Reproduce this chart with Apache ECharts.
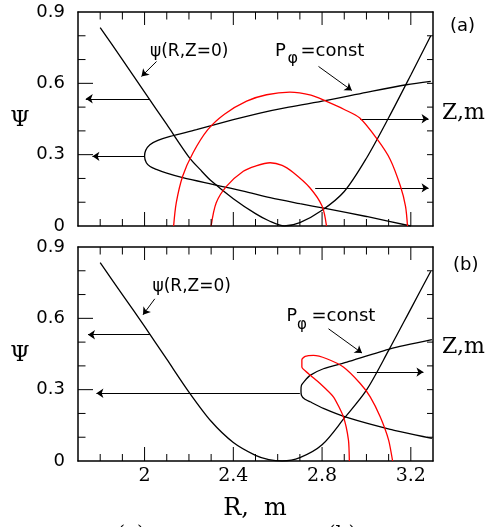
<!DOCTYPE html>
<html>
<head>
<meta charset="utf-8">
<script src="https://cdn.jsdelivr.net/npm/echarts@6/dist/echarts.min.js"></script>
<style>
html, body { margin: 0; padding: 0; background: #fff; }
#main { width: 494px; height: 527px; }
</style>
</head>
<body>
<div id="main"></div>
<script>
// ticks and tick labels
const rMajor = [2, 2.4, 2.8, 3.2]
const rMinor = [1.8, 1.9, 2.1, 2.2, 2.3, 2.5, 2.6, 2.7, 2.9, 3.0, 3.1]
const psiMajor = [0, 0.3, 0.6, 0.9]
const psiMinor = [0.1, 0.2, 0.4, 0.5, 0.7, 0.8]
const psiAll = [0.1, 0.2, 0.3, 0.4, 0.5, 0.6, 0.7, 0.8]

// psi(R, Z=0), panel (a)
const psiA = [[1.8, 0.834], [1.9, 0.7], [2.0, 0.563], [2.1, 0.427], [2.2, 0.29], [2.25, 0.238],
  [2.3, 0.19], [2.4, 0.115], [2.5, 0.052], [2.56, 0.022], [2.63, 0], [2.7, 0.014], [2.8, 0.066],
  [2.9, 0.145], [3.0, 0.285], [3.1, 0.455], [3.2, 0.635], [3.29, 0.8]]

// psi(R, Z=0), panel (b)
const psiB = [[1.8, 0.834], [1.9, 0.7], [2.0, 0.566], [2.1, 0.428], [2.2, 0.29], [2.3, 0.167],
  [2.4, 0.078], [2.5, 0.024], [2.56, 0.006], [2.62, 0], [2.7, 0.014], [2.8, 0.068], [2.9, 0.18],
  [3.0, 0.298], [3.1, 0.465], [3.2, 0.64], [3.29, 0.798]]

// P_phi = const, panel (a)
const pphiA = [[3.29, 0.608], [3.18, 0.594], [3.0, 0.562], [2.82, 0.528], [2.65, 0.5], [2.52, 0.475],
  [2.4, 0.447], [2.234, 0.405], [2.115, 0.377], [2.06, 0.36], [2.024, 0.342], [2.005, 0.318],
  [2.0, 0.293], [2.008, 0.266], [2.025, 0.25], [2.053, 0.238], [2.1, 0.222], [2.172, 0.203],
  [2.307, 0.175], [2.445, 0.147], [2.566, 0.119], [2.7, 0.094], [2.814, 0.074], [3.0, 0.04], [3.2, 0]]

// red orbits, panel (a)
const redOuterA = [[2.131, 0], [2.143, 0.098], [2.172, 0.21], [2.218, 0.307], [2.285, 0.405],
  [2.36, 0.47], [2.46, 0.525], [2.55, 0.552], [2.655, 0.563], [2.75, 0.55], [2.82, 0.524],
  [2.9, 0.49], [2.97, 0.454], [3.05, 0.363], [3.107, 0.28], [3.153, 0.168], [3.176, 0.084], [3.185, 0]]
const redInnerA = [[2.3, 0], [2.323, 0.098], [2.37, 0.168], [2.445, 0.23], [2.5, 0.252],
  [2.566, 0.266], [2.62, 0.255], [2.67, 0.225], [2.745, 0.161], [2.8, 0.084], [2.82, 0]]

// P_phi = const, panel (b)
const pphiB = [[3.295, 0.51], [3.107, 0.472], [2.912, 0.416], [2.806, 0.388], [2.746, 0.36],
  [2.72, 0.335], [2.707, 0.318], [2.705, 0.297], [2.707, 0.277], [2.72, 0.262], [2.746, 0.249],
  [2.806, 0.221], [2.912, 0.183], [3.107, 0.133], [3.295, 0.095]]

// red orbit, panel (b)
const redB = [[2.923, 0], [2.919, 0.088], [2.896, 0.186], [2.851, 0.27], [2.791, 0.326],
  [2.738, 0.368], [2.709, 0.395], [2.709, 0.426], [2.724, 0.44], [2.761, 0.444], [2.821, 0.43],
  [2.896, 0.395], [2.972, 0.326], [3.017, 0.27], [3.062, 0.186], [3.1, 0.088], [3.118, 0]]

// arrows (from, to) in R, psi
const arrowsA = [
  [[2.02, 0.535], [1.735, 0.535]],
  [[2.0, 0.293], [1.765, 0.293]],
  [[2.972, 0.451], [3.28, 0.451]],
  [[2.769, 0.16], [3.28, 0.16]],
  [[2.054, 0.692], [1.986, 0.629]],
  [[2.784, 0.671], [2.934, 0.57]]
]
const arrowsB = [
  [[2.024, 0.531], [1.745, 0.531]],
  [[2.70, 0.285], [1.783, 0.285]],
  [[2.957, 0.374], [3.257, 0.374]],
  [[2.046, 0.682], [1.993, 0.615]],
  [[2.829, 0.556], [2.98, 0.454]]
]

const black = '#000'
const near = (v, list) => list.some(t => Math.abs(t - v) < 1e-6)

// grid size, used to turn tick lengths in px into axis units
const gridW = 355
const gridH = 214
const rMin = 1.7
const rMax = 3.3
const psiMax = 0.9
const rPerPx = (rMax - rMin) / gridW
const psiPerPx = psiMax / gridH

function xAxes(grid, labels) {
  return ['bottom', 'top'].map(pos => ({
    type: 'value', gridIndex: grid, position: pos, min: rMin, max: rMax, interval: 0.1,
    splitLine: { show: false }, axisTick: { show: false },
    axisLine: { show: true, onZero: false, lineStyle: { color: black, width: 1.5 } },
    axisLabel: (labels && pos === 'bottom') ? {
      margin: 6, color: black, fontFamily: 'DejaVu Serif', fontSize: 19,
      formatter: v => near(v, rMajor) ? String(+v.toFixed(1)) : ''
    } : { show: false }
  }))
}

function yAxes(grid) {
  return ['left', 'right'].map(pos => ({
    type: 'value', gridIndex: grid, position: pos, min: 0, max: psiMax, interval: 0.1,
    splitLine: { show: false }, axisTick: { show: false },
    axisLine: { show: true, onZero: false, lineStyle: { color: black, width: 1.5 } },
    axisLabel: pos === 'left' ? {
      margin: 13, color: black, fontFamily: 'DejaVu Sans', fontSize: 18,
      formatter: v => near(v, psiMajor) ? String(+v.toFixed(1)) : ''
    } : { show: false }
  }))
}

// inward ticks on all four sides of a panel, one short line series per tick
function tickSeries(xi, yi) {
  const segs = []
  const xTick = (v, lb, lt) => {
    segs.push([[v, 0], [v, lb * psiPerPx]])
    segs.push([[v, psiMax], [v, psiMax - lt * psiPerPx]])
  }
  rMinor.forEach(v => xTick(v, 7, 7.5))
  rMajor.forEach(v => xTick(v, 14, 13))
  psiMinor.forEach(v => segs.push([[rMin, v], [rMin + 7.5 * rPerPx, v]]))
  psiMajor.filter(v => v > 0 && v < psiMax).forEach(v => segs.push([[rMin, v], [rMin + 15 * rPerPx, v]]))
  psiAll.forEach(v => segs.push([[rMax, v], [rMax - 6 * rPerPx, v]]))
  return segs.map(s => ({
    type: 'line', data: s, xAxisIndex: xi, yAxisIndex: yi, showSymbol: false, symbol: 'none',
    lineStyle: { color: black, width: 1 }, silent: true, clip: false
  }))
}

function curve(data, color, xi, yi, smooth) {
  return {
    type: 'line', data: data, xAxisIndex: xi, yAxisIndex: yi, showSymbol: false, symbol: 'none',
    smooth: smooth, lineStyle: { color: color, width: 1.3 }, silent: true
  }
}

function arrows(list, xi, yi) {
  return {
    type: 'lines', coordinateSystem: 'cartesian2d', xAxisIndex: xi, yAxisIndex: yi,
    symbol: ['none', 'arrow'], symbolSize: 7,
    lineStyle: { color: black, width: 1, opacity: 1, curveness: 0 },
    data: list.map(c => ({ coords: c })), silent: true
  }
}

function txt(text, x, y, font, align, va) {
  return {
    type: 'text', x: x, y: y, silent: true,
    style: { text: text, font: font, fill: black, textAlign: align || 'left', textVerticalAlign: va || 'middle' }
  }
}

const sans = '"DejaVu Sans"'
const serif = '"DejaVu Serif"'

const chart = echarts.init(document.getElementById('main'))
chart.setOption({
  animation: false,
  grid: [
    { left: 78, top: 12, width: gridW, height: gridH },
    { left: 78, top: 247, width: gridW, height: gridH }
  ],
  xAxis: xAxes(0, false).concat(xAxes(1, true)),
  yAxis: yAxes(0).concat(yAxes(1)),
  series: [
    curve(psiA, black, 0, 0, 0.3),
    curve(pphiA, black, 0, 0, 0.3),
    curve(redOuterA, '#ff0000', 0, 0, 0.3),
    curve(redInnerA, '#ff0000', 0, 0, 0.3),
    arrows(arrowsA, 0, 0),
    curve(psiB, black, 2, 2, 0.3),
    curve(pphiB, black, 2, 2, 0.2),
    curve(redB, '#ff0000', 2, 2, 0.2),
    arrows(arrowsB, 2, 2)
  ].concat(tickSeries(0, 0), tickSeries(2, 2)),
  graphic: [
    txt('ψ(R,Z=0)', 150, 51.5, '17px ' + sans),
    txt('P', 275, 51.5, '18px ' + sans),
    txt('φ', 287.5, 59, '16px ' + sans),
    txt('=const', 300.5, 51.5, '18px ' + sans),
    txt('(a)', 450, 26.5, '18px ' + sans),
    txt('Z,m', 442, 113, '22px ' + serif),
    txt('Ψ', 20, 120, '22px ' + serif, 'center'),
    txt('ψ(R,Z=0)', 152.5, 286.5, '17px ' + sans),
    txt('P', 286.5, 316, '17.5px ' + sans),
    txt('φ', 297, 325, '15px ' + sans),
    txt('=const', 311.5, 316, '18px ' + sans),
    txt('(b)', 453, 265.5, '18px ' + sans),
    txt('Z,m', 442, 347.5, '22px ' + serif),
    txt('Ψ', 20, 355, '22px ' + serif, 'center'),
    txt('R,  m', 255, 509, '24px ' + serif, 'center'),
    txt('(a)', 131, 525, '20px ' + serif, 'center', 'top'),
    txt('(b)', 342, 525, '20px ' + serif, 'center', 'top')
  ]
})
</script>
</body>
</html>
